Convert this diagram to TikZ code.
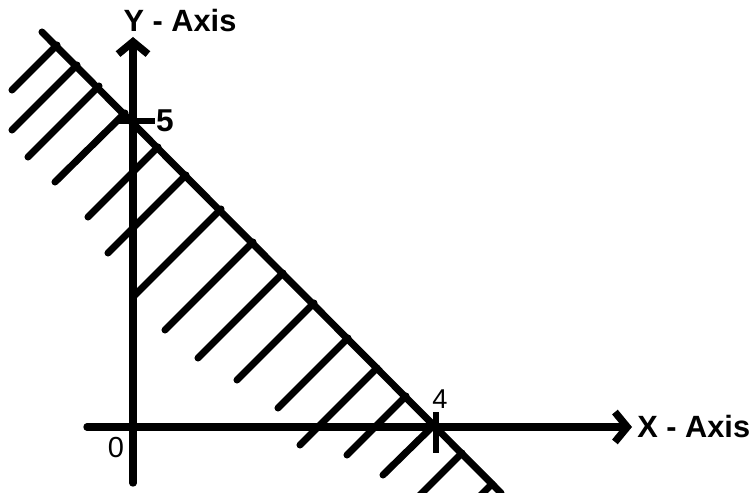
\documentclass[tikz,border=0pt]{standalone}
\usepackage{fontspec}
\setmainfont{Liberation Sans}
\usetikzlibrary{arrows.meta}

\begin{document}
\begin{tikzpicture}[x=0.02cm, y=-0.02cm,
    axisline/.style={line width=4.2pt, line cap=round,
                     -{Straight Barb[length=7pt, width=17pt]}},
    boundary/.style={line width=4pt, line cap=round},
    hatchline/.style={line width=4pt, line cap=round},
    tickmark/.style={line width=3.4pt},
    axislabel/.style={font=\fontsize{17.5}{20}\selectfont\bfseries, inner sep=0pt},
    numlabel/.style={font=\fontsize{16.5}{18}\selectfont, inner sep=0pt}
  ]
    \useasboundingbox (0,0) rectangle (751,493);
    \clip (0,0) rectangle (751,493);

    % axes
    \coordinate (O) at (133,427);
    \coordinate (xstart) at (87,427);
    \coordinate (xend) at (632,427);
    \coordinate (ystart) at (133,483);
    \coordinate (yend) at (133,37);
    \draw[axisline] (xstart) -- (xend);
    \draw[axisline] (ystart) -- (yend);

    % line through (0,5) and (4,0)
    \coordinate (ltop) at (42,32);
    \coordinate (lbot) at (501,493);
    \draw[boundary] (ltop) -- (lbot);

    % hatching below the line
    \foreach \sx/\sy/\ex/\ey in {57/45/12/90, 77/65/12/130, 99/86/28/157,
        125/113/55/182, 158/147/88/217, 186/175/108/253, 221/209/133/297,
        253/242/165/330, 283/273/198/358, 314/303/237/380, 348/338/278/408,
        377/368/300/445, 406/396/347/455, 434/425/383/475, 462/453/417/498,
        492/484/480/496}
      \draw[hatchline] (\sx,\sy) -- (\ex,\ey);

    % ticks
    \coordinate (t5a) at (118,121);
    \coordinate (t5b) at (155,121);
    \coordinate (t4a) at (436,412);
    \coordinate (t4b) at (436,453);
    \draw[tickmark] (t5a) -- (t5b);
    \draw[tickmark] (t4a) -- (t4b);

    % labels
    \node[axislabel, anchor=base] (ylab) at (180,32) {Y - Axis};
    \node[axislabel, anchor=base west] (xlab) at (637,438) {X - Axis};
    \node[numlabel, anchor=base, font=\fontsize{18}{20}\selectfont\bfseries] (five) at (165,132) {5};
    \node[numlabel, anchor=base, font=\fontsize{15.5}{18}\selectfont] (four) at (440,408) {4};
    \node[numlabel, anchor=base] (zero) at (116,458) {0};
  \end{tikzpicture}
\end{document}
